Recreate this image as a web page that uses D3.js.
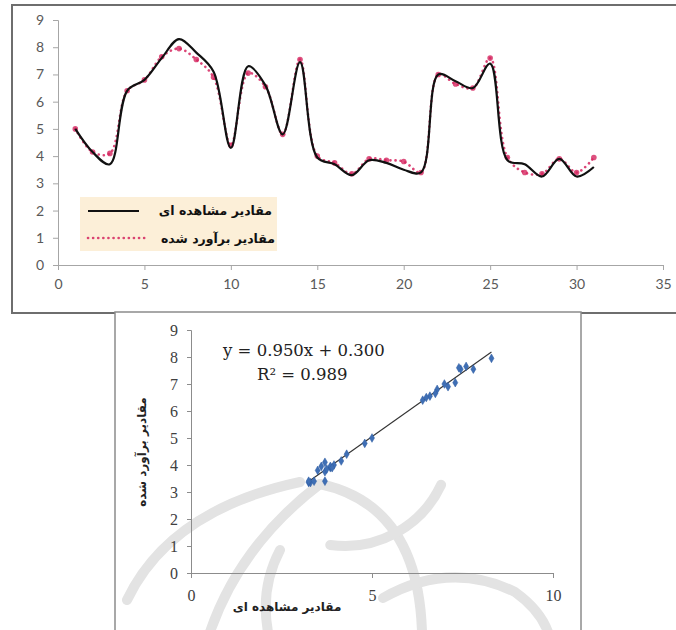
<!DOCTYPE html>
<html>
<head>
<meta charset="utf-8">
<script src="https://cdn.jsdelivr.net/npm/d3@7"></script>
<style>
  html, body { margin: 0; padding: 0; background: #fff; }
  svg { display: block; }
</style>
</head>
<body>
<svg id="chart" width="676" height="630"></svg>
<script>
// Day index for the time series
const days = d3.range(1, 32);
// Observed values (مقادیر مشاهده ای)
const observed = [5.0, 4.15, 3.7, 6.4, 6.8, 7.6, 8.3, 7.8, 7.1, 4.3, 7.3, 6.6, 4.8, 7.45, 3.95, 3.7,
                  3.3, 3.85, 3.75, 3.5, 3.4, 7.0, 6.75, 6.5, 7.4, 3.85, 3.7, 3.25, 3.9, 3.25, 3.6];
// Estimated values (مقادیر برآورد شده)
const estimated = [5.0, 4.15, 4.1, 6.4, 6.8, 7.65, 7.95, 7.55, 6.9, 4.4, 7.05, 6.55, 4.8, 7.55, 4.0, 3.75,
                   3.35, 3.9, 3.85, 3.8, 3.4, 7.0, 6.65, 6.5, 7.6, 3.95, 3.4, 3.35, 3.9, 3.4, 3.95];
// Axis ticks
const seriesXTicks = [0, 5, 10, 15, 20, 25, 30, 35];
const seriesYTicks = [0, 1, 2, 3, 4, 5, 6, 7, 8, 9];
const scatterXTicks = [0, 5, 10];
const scatterYTicks = [0, 1, 2, 3, 4, 5, 6, 7, 8, 9];
// Linear fit shown on the scatter plot
const fitSlope = 0.950;
const fitIntercept = 0.300;
const fitR2 = 0.989;
// Labels
const labelObserved = "مقادیر مشاهده ای";
const labelEstimated = "مقادیر برآورد شده";

const svg = d3.select("#chart");
const RED = "#d5265f";
const persianFont = "'DejaVu Sans', sans-serif";

/* ---------------- Top panel: time series ---------------- */
const topPanel = svg.append("g");
topPanel.append("rect")
  .attr("x", 12).attr("y", 5).attr("width", 700).attr("height", 308)
  .attr("fill", "#fff").attr("stroke", "#6e6e6e").attr("stroke-width", 2);

const x1 = d3.scaleLinear().domain([0, 35]).range([58, 663]);
const y1 = d3.scaleLinear().domain([0, 9]).range([265, 20]);

const axisGrey = "#a6a6a6";
const gx1 = topPanel.append("g").attr("transform", `translate(0,${y1(0)})`)
  .call(d3.axisBottom(x1).tickValues(seriesXTicks).tickSizeOuter(0).tickSize(5).tickPadding(9));
const gy1 = topPanel.append("g").attr("transform", `translate(${x1(0)},0)`)
  .call(d3.axisLeft(y1).tickValues(seriesYTicks).tickSizeOuter(0).tickSize(5).tickPadding(9));
[gx1, gy1].forEach(g => {
  g.select(".domain").attr("stroke", axisGrey);
  g.selectAll(".tick line").attr("stroke", axisGrey);
  g.selectAll(".tick text").attr("fill", "#595959")
    .attr("font-family", "Lato, 'Open Sans', sans-serif").attr("font-size", 14);
});

const line1 = d3.line().curve(d3.curveCatmullRom.alpha(0.5));
const obsPts = days.map((d, i) => [x1(d), y1(observed[i])]);
const estPts = days.map((d, i) => [x1(d), y1(estimated[i])]);

// Estimated: dotted red line with small round markers
topPanel.append("path").attr("d", line1(estPts))
  .attr("fill", "none").attr("stroke", RED).attr("stroke-width", 2.6)
  .attr("stroke-linecap", "round").attr("stroke-dasharray", "0.1 5").attr("opacity", 0.85);
topPanel.append("g").selectAll("circle").data(estPts).join("circle")
  .attr("cx", d => d[0]).attr("cy", d => d[1]).attr("r", 2.8)
  .attr("fill", RED).attr("opacity", 0.8);

// Observed: solid black smooth line
topPanel.append("path").attr("d", line1(obsPts))
  .attr("fill", "none").attr("stroke", "#111").attr("stroke-width", 2.2);

// Legend
const lg = topPanel.append("g");
lg.append("rect").attr("x", 80).attr("y", 197).attr("width", 197).attr("height", 54)
  .attr("fill", "#fcefd8");
lg.append("line").attr("x1", 88).attr("x2", 139).attr("y1", 211).attr("y2", 211)
  .attr("stroke", "#111").attr("stroke-width", 2.2);
lg.append("line").attr("x1", 88).attr("x2", 149).attr("y1", 238).attr("y2", 238)
  .attr("stroke", RED).attr("stroke-width", 2.6).attr("stroke-linecap", "round")
  .attr("stroke-dasharray", "0.1 5").attr("opacity", 0.85);
lg.append("text").attr("x", 272).attr("y", 215).attr("text-anchor", "end")
  .attr("font-family", persianFont).attr("font-size", 12.5).attr("font-weight", "bold")
  .attr("fill", "#111").text(labelObserved);
lg.append("text").attr("x", 275).attr("y", 243).attr("text-anchor", "end")
  .attr("font-family", persianFont).attr("font-size", 12.5).attr("font-weight", "bold")
  .attr("fill", "#111").text(labelEstimated);

/* ---------------- Bottom panel: observed vs estimated ---------------- */
const botPanel = svg.append("g");
botPanel.append("rect")
  .attr("x", 115).attr("y", 312).attr("width", 466).attr("height", 330)
  .attr("fill", "#fff").attr("stroke", "#8c8c8c").attr("stroke-width", 1.5);

// Decorative background emblem (light grey arcs)
const ringArc = d3.path();
ringArc.arc(345, 440, 106, 25 * Math.PI / 180, 98 * Math.PI / 180);
const emblem = [
  "M127,600 Q170,510 300,482",
  "M320,484 Q240,545 210,632",
  "M320,484 Q418,505 422,632",
  ringArc.toString(),
  "M280,550 Q260,588 268,632",
  "M383,598 Q450,560 515,592 Q540,610 548,632"
];
botPanel.append("g").attr("fill", "none").attr("stroke", "#e3e3e3")
  .attr("stroke-width", 10).attr("stroke-linecap", "round")
  .selectAll("path").data(emblem).join("path").attr("d", d => d);

const x2 = d3.scaleLinear().domain([0, 10]).range([191, 553]);
const y2 = d3.scaleLinear().domain([0, 9]).range([573, 330]);
const serif = "'Liberation Serif', 'DejaVu Serif', serif";
const gx2 = botPanel.append("g").attr("transform", `translate(0,${y2(0)})`)
  .call(d3.axisBottom(x2).tickValues(scatterXTicks).tickSizeOuter(0).tickSize(5).tickPadding(12));
const gy2 = botPanel.append("g").attr("transform", `translate(${x2(0)},0)`)
  .call(d3.axisLeft(y2).tickValues(scatterYTicks).tickSizeOuter(0).tickSize(4).tickPadding(9));
[gx2, gy2].forEach(g => {
  g.select(".domain").attr("stroke", "#8c8c8c");
  g.selectAll(".tick line").attr("stroke", "#8c8c8c");
  g.selectAll(".tick text").attr("fill", "#404040")
    .attr("font-family", serif).attr("font-size", 16);
});

// Fit line across the observed range
const xExt = d3.extent(observed);
botPanel.append("line")
  .attr("x1", x2(xExt[0])).attr("y1", y2(fitSlope * xExt[0] + fitIntercept))
  .attr("x2", x2(xExt[1])).attr("y2", y2(fitSlope * xExt[1] + fitIntercept))
  .attr("stroke", "#333").attr("stroke-width", 1.1);

// Points as small diamonds
const diamond = d3.symbol().type(d3.symbolDiamond).size(22);
botPanel.append("g").selectAll("path").data(observed).join("path")
  .attr("d", diamond)
  .attr("transform", (d, i) => `translate(${x2(d)},${y2(estimated[i])})`)
  .attr("fill", "#3f6fb5").attr("stroke", "#2c5aa0").attr("stroke-width", 0.5);

// Equation
const eqFont = "'DejaVu Serif', serif";
botPanel.append("text").attr("x", 223).attr("y", 356)
  .attr("font-family", eqFont).attr("font-size", 16.5).attr("fill", "#222")
  .text(`y = ${fitSlope.toFixed(3)}x + ${fitIntercept.toFixed(3)}`);
botPanel.append("text").attr("x", 257).attr("y", 380)
  .attr("font-family", eqFont).attr("font-size", 16.5).attr("fill", "#222")
  .text(`R² = ${fitR2.toFixed(3)}`);

// Axis titles
botPanel.append("text").attr("x", 287).attr("y", 611).attr("text-anchor", "middle")
  .attr("font-family", persianFont).attr("font-size", 12).attr("font-weight", "bold")
  .attr("fill", "#222").text(labelObserved);
botPanel.append("text").attr("transform", "translate(146,452) rotate(-90)").attr("text-anchor", "middle")
  .attr("font-family", persianFont).attr("font-size", 12).attr("font-weight", "bold")
  .attr("fill", "#222").text(labelEstimated);
</script>
</body>
</html>
